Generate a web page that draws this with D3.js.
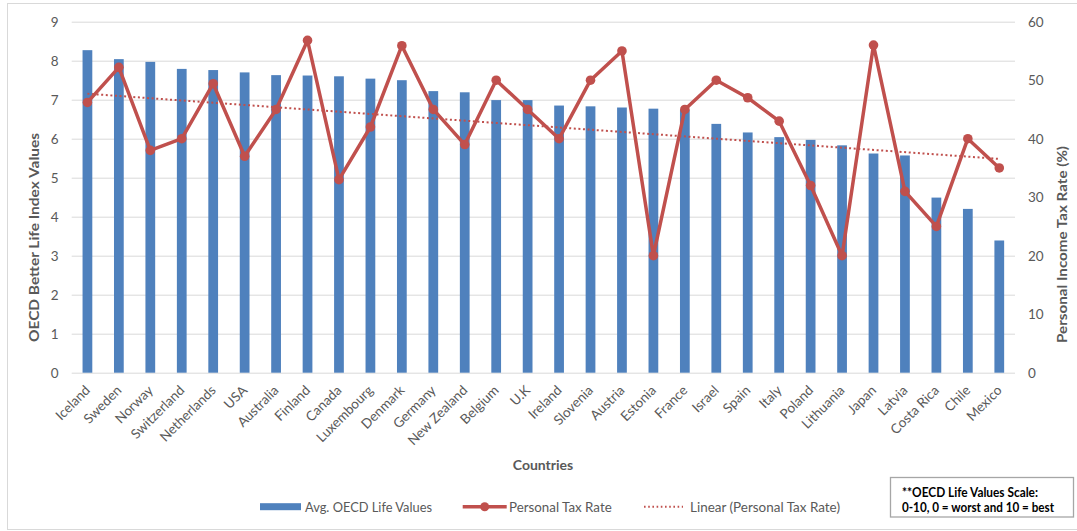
<!DOCTYPE html>
<html>
<head>
<meta charset="utf-8">
<script src="https://cdn.jsdelivr.net/npm/d3@7"></script>
<style>
  html, body { margin: 0; padding: 0; background: #fff; }
  svg { display: block; font-family: Lato, "Open Sans", sans-serif; }
</style>
</head>
<body>
<svg id="chart" width="1077" height="531"></svg>
<script>
const countries = ["Iceland","Sweden","Norway","Switzerland","Netherlands","USA","Australia","Finland","Canada","Luxembourg","Denmark","Germany","New Zealand","Belgium","U.K","Ireland","Slovenia","Austria","Estonia","France","Israel","Spain","Italy","Poland","Lithuania","Japan","Latvia","Costa Rica","Chile","Mexico"];
const lifeValues = [8.27,8.04,7.97,7.79,7.76,7.70,7.63,7.62,7.60,7.54,7.50,7.22,7.19,6.99,6.99,6.85,6.83,6.80,6.77,6.74,6.38,6.16,6.04,5.97,5.83,5.62,5.57,4.49,4.20,3.39];
const taxRates = [46.2,52.2,38,40,49.4,37,45,56.8,33,42,55.9,45,39,50,45,40,50,55,20,45,50,47,43,32,20,56,31,25,40,35];
const leftTicks = [0,1,2,3,4,5,6,7,8,9];
const rightTicks = [0,10,20,30,40,50,60];
const leftTitle = "OECD Better Life Index  Values";
const rightTitle = "Personal Income Tax Rate (%)";
const xTitle = "Countries";
const legendLabels = ["Avg. OECD Life Values","Personal Tax Rate","Linear (Personal Tax Rate)"];
const noteLines = ["**OECD Life Values Scale:","0-10, 0 = worst and 10 = best"];

const BLUE = "#4F81BD", RED = "#C0504D", GRID = "#D9D9D9", TXT = "#595959";
const L = 71.7, R = 1015, T = 21.7, B = 372.7;

const svg = d3.select("#chart");

function fit(sel, target) {
  const w = sel.node().getComputedTextLength();
  if (Math.abs(w - target) / target > 0.03) sel.attr("textLength", target).attr("lengthAdjust", "spacingAndGlyphs");
  return sel;
}

// outer border
svg.append("rect").attr("x", 7.5).attr("y", 3.5).attr("width", 1075).attr("height", 526)
  .attr("fill", "none").attr("stroke", GRID).attr("stroke-width", 1);

const x = d3.scaleBand().domain(countries).range([L, R]).paddingInner(0.69).paddingOuter(0.345);
const yL = d3.scaleLinear().domain([0, 9]).range([B, T]);
const yR = d3.scaleLinear().domain([0, 60]).range([B, T]);

// left axis + gridlines
const gL = svg.append("g").attr("transform", `translate(${L},0)`)
  .call(d3.axisLeft(yL).tickValues(leftTicks).tickSize(-(R - L)).tickPadding(13).tickFormat(d3.format("d")));
gL.select(".domain").remove();
gL.selectAll(".tick line").attr("stroke", GRID).attr("stroke-width", 1);
gL.selectAll(".tick text").attr("fill", TXT).style("font-size", "13.5px").style("font-family", "Lato, sans-serif");

// right axis
const gR = svg.append("g").attr("transform", `translate(${R},0)`)
  .call(d3.axisRight(yR).tickValues(rightTicks).tickSize(0).tickPadding(13).tickFormat(d3.format("d")));
gR.select(".domain").remove();
gR.selectAll(".tick text").attr("fill", TXT).style("font-size", "13.5px").style("font-family", "Lato, sans-serif");

// bars
svg.append("g").selectAll("rect").data(countries).join("rect")
  .attr("x", d => x(d)).attr("width", x.bandwidth())
  .attr("y", (d, i) => yL(lifeValues[i])).attr("height", (d, i) => B - yL(lifeValues[i]))
  .attr("fill", BLUE);

// bottom axis labels
const gB = svg.append("g").attr("transform", `translate(0,${B})`)
  .call(d3.axisBottom(x).tickSize(0).tickPadding(0));
gB.select(".domain").remove();
gB.selectAll(".tick text")
  .attr("fill", TXT).style("font-size", "13.5px").style("font-family", "Lato, sans-serif")
  .attr("text-anchor", "end").attr("dy", null).attr("y", null)
  .attr("transform", "translate(3.5,18.5) rotate(-45)");

// tax rate line
const cx = i => x(countries[i]) + x.bandwidth() / 2;
const line = d3.line().x((d, i) => cx(i)).y(d => yR(d));
svg.append("path").datum(taxRates).attr("d", line)
  .attr("fill", "none").attr("stroke", RED).attr("stroke-width", 3.5).attr("stroke-linejoin", "round");

// trendline (linear regression, as Excel computes it)
const n = taxRates.length;
const xs = d3.range(1, n + 1);
const mx = d3.mean(xs), my = d3.mean(taxRates);
const slope = d3.sum(xs, (v, i) => (v - mx) * (taxRates[i] - my)) / d3.sum(xs, v => (v - mx) ** 2);
const icpt = my - slope * mx;
svg.append("line")
  .attr("x1", cx(0)).attr("y1", yR(icpt + slope * 1))
  .attr("x2", cx(n - 1)).attr("y2", yR(icpt + slope * n))
  .attr("stroke", RED).attr("stroke-width", 2).attr("stroke-dasharray", "2,2.6");

// markers
svg.append("g").selectAll("circle").data(taxRates).join("circle")
  .attr("cx", (d, i) => cx(i)).attr("cy", d => yR(d)).attr("r", 4.8).attr("fill", RED);

// axis titles
fit(svg.append("text").text(leftTitle)
  .attr("transform", "translate(38.5,237.5) rotate(-90)")
  .attr("text-anchor", "middle").attr("fill", TXT).attr("font-weight", "bold").style("font-size", "14px"), 209);
fit(svg.append("text").text(rightTitle)
  .attr("transform", "translate(1066.5,244.5) rotate(-90)")
  .attr("text-anchor", "middle").attr("fill", TXT).attr("font-weight", "bold").style("font-size", "14px"), 197);
fit(svg.append("text").text(xTitle)
  .attr("x", 543).attr("y", 470).attr("text-anchor", "middle")
  .attr("fill", TXT).attr("font-weight", "bold").style("font-size", "14px"), 62);

// legend
const lg = svg.append("g");
const ly = 506.7, lbase = 511.5;
lg.append("rect").attr("x", 260).attr("y", ly - 3.5).attr("width", 41).attr("height", 7).attr("fill", BLUE);
fit(lg.append("text").text(legendLabels[0]).attr("x", 305).attr("y", lbase).attr("fill", TXT).style("font-size", "14px"), 127);
lg.append("line").attr("x1", 462.7).attr("x2", 506.7).attr("y1", ly).attr("y2", ly).attr("stroke", RED).attr("stroke-width", 3.5);
lg.append("circle").attr("cx", 484.7).attr("cy", ly).attr("r", 4.5).attr("fill", RED);
fit(lg.append("text").text(legendLabels[1]).attr("x", 509).attr("y", lbase).attr("fill", TXT).style("font-size", "14px"), 102.7);
lg.append("line").attr("x1", 644).attr("x2", 683).attr("y1", ly).attr("y2", ly).attr("stroke", RED).attr("stroke-width", 2).attr("stroke-dasharray", "1.6,2.6");
fit(lg.append("text").text(legendLabels[2]).attr("x", 690).attr("y", lbase).attr("fill", TXT).style("font-size", "14px"), 150);

// note box
svg.append("rect").attr("x", 890.5).attr("y", 477.5).attr("width", 183).attr("height", 39.5)
  .attr("fill", "#fff").attr("stroke", "#A6A6A6").attr("stroke-width", 1.3);
fit(svg.append("text").text(noteLines[0]).attr("x", 902).attr("y", 496.7).attr("fill", "#000").attr("font-weight", "bold").style("font-size", "13px"), 136);
fit(svg.append("text").text(noteLines[1]).attr("x", 902).attr("y", 511.7).attr("fill", "#000").attr("font-weight", "bold").style("font-size", "13px"), 152);
</script>
</body>
</html>
